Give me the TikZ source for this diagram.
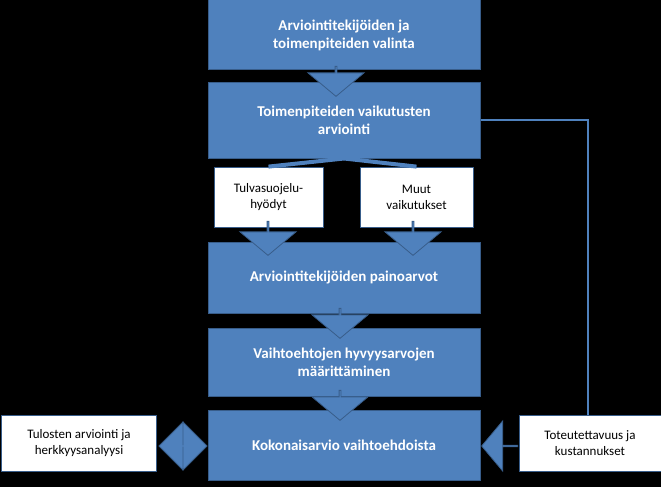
\documentclass[tikz,border=0pt]{standalone}
\usepackage{fontspec}
\setmainfont{Carlito}
\usetikzlibrary{shapes.arrows}
\definecolor{boxblue}{HTML}{4F81BD}
\definecolor{boxline}{HTML}{385D8A}
\tikzset{bluebox/.style={draw=boxline,fill=boxblue,line width=1pt,minimum width=272pt,text=white,font=\bfseries\fontsize{15}{18}\selectfont,align=center,inner sep=0pt}}
\tikzset{whitebox/.style={draw=boxline,fill=white,line width=0.8pt,align=center,font=\fontsize{13}{16}\selectfont,inner sep=0pt}}
\tikzset{blockarrow/.style={single arrow,draw=boxline,fill=boxblue,line width=0.8pt,inner sep=0pt,minimum width=56pt,single arrow head extend=12pt,single arrow tip angle=100}}
\tikzset{feed/.style={draw=boxblue,line width=2pt}}
\begin{document}
\begin{tikzpicture}[x=1pt,y=-1pt]
    \fill[black] (0,0) rectangle (661,487);
    \useasboundingbox (0,0) rectangle (661,487);

    \node[bluebox,minimum height=70pt] (valinta) at (344,35) {Arviointitekijöiden ja\\toimenpiteiden valinta};
    \node[bluebox,minimum height=76pt] (vaikutus) at (344,120) {Toimenpiteiden vaikutusten\\arviointi};
    \node[bluebox,minimum height=71pt] (paino) at (344,277.5) {Arviointitekijöiden painoarvot};
    \node[bluebox,minimum height=68pt] (hyvyys) at (344,362) {Vaihtoehtojen hyvyysarvojen\\määrittäminen};
    \node[bluebox,minimum height=70pt] (kokonais) at (344,445) {Kokonaisarvio vaihtoehdoista};

    \node[whitebox,minimum width=109pt,minimum height=60pt] (tulva) at (268.5,197) {Tulvasuojelu-\\hyödyt};
    \node[whitebox,minimum width=113pt,minimum height=60pt] (muut) at (416.5,197) {Muut\\vaikutukset};
    \node[whitebox,minimum width=155pt,minimum height=56pt] (tulokset) at (79,443) {Tulosten arviointi ja\\herkkyysanalyysi};
    \node[whitebox,minimum width=142pt,minimum height=56pt] (toteutus) at (590,443) {Toteutettavuus ja\\kustannukset};

    \coordinate (haara) at (vaikutus.south);
    \draw[feed,line width=4pt] (haara) -- (tulva.north);
    \draw[feed,line width=4pt] (haara) -- (muut.north);
    \draw[feed] (vaikutus.east) -- (588,120) -- (588,415);

    % block arrows
    \node[blockarrow,shape border rotate=270,minimum height=30pt] (a1) at (336,81) {};
    \node[blockarrow,shape border rotate=270,minimum height=34pt] (a2) at (268,238) {};
    \node[blockarrow,shape border rotate=270,minimum height=34pt] (a3) at (413,238) {};
    \node[blockarrow,shape border rotate=270,minimum height=30pt] (a4) at (340,323) {};
    \node[blockarrow,shape border rotate=270,minimum height=30pt] (a5) at (340,405) {};
    \node[double arrow,draw=boxline,fill=boxblue,line width=0.8pt,inner sep=0pt,minimum width=48pt,minimum height=48pt,double arrow head extend=10pt] (a6) at (183,446) {};
    \node[blockarrow,shape border rotate=180,minimum width=50pt,minimum height=36pt] (a7) at (500,446) {};
\end{tikzpicture}
\end{document}
